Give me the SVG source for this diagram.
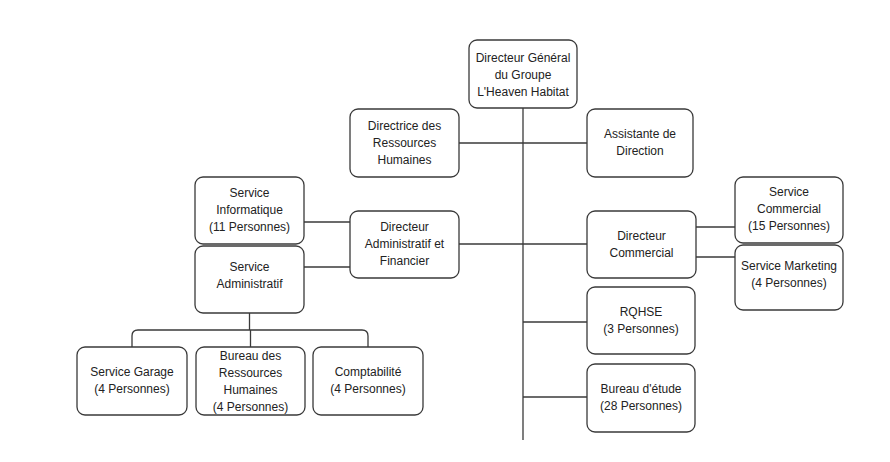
<svg xmlns="http://www.w3.org/2000/svg" width="890" height="462" viewBox="0 0 890 462">
<style>
.box{fill:#fff;stroke:#3a3a3a;stroke-width:1.3}
.lbl{font-family:"Liberation Sans",Arial,sans-serif;font-size:12px;fill:#222;text-anchor:middle}
.ln{fill:none;stroke:#3a3a3a;stroke-width:1.3}
</style>
<rect width="890" height="462" fill="#fff"/>
<g id="connectors">
<line class="ln" x1="523" y1="108" x2="523" y2="440"/>
<line class="ln" x1="459" y1="143" x2="587" y2="143"/>
<line class="ln" x1="459" y1="244" x2="587" y2="244"/>
<line class="ln" x1="523" y1="322" x2="587" y2="322"/>
<line class="ln" x1="523" y1="397" x2="587" y2="397"/>
<line class="ln" x1="304" y1="222" x2="350" y2="222"/>
<line class="ln" x1="304" y1="267" x2="350" y2="267"/>
<line class="ln" x1="696" y1="227" x2="735" y2="227"/>
<line class="ln" x1="696" y1="257" x2="735" y2="257"/>
<path class="ln" d="M249.5 313 V330 M132 347 V336 Q132 330 138 330 H362 Q368 330 368 336 V347 M250.5 330 V347"/>
</g>
<g id="dg"><rect class="box" x="469" y="40" width="108" height="68" rx="8"/><text class="lbl"><tspan x="523" y="62">Directeur Général</tspan><tspan x="523" y="79">du Groupe</tspan><tspan x="523" y="96">L'Heaven Habitat</tspan></text></g>
<g id="drh"><rect class="box" x="350" y="109" width="109" height="68" rx="8"/><text class="lbl"><tspan x="404.5" y="130">Directrice des</tspan><tspan x="404.5" y="147">Ressources</tspan><tspan x="404.5" y="164">Humaines</tspan></text></g>
<g id="assistante"><rect class="box" x="587" y="109" width="106" height="68" rx="8"/><text class="lbl"><tspan x="640" y="137.5">Assistante de</tspan><tspan x="640" y="154.5">Direction</tspan></text></g>
<g id="informatique"><rect class="box" x="195" y="177" width="109" height="67" rx="8"/><text class="lbl"><tspan x="249.5" y="197">Service</tspan><tspan x="249.5" y="214">Informatique</tspan><tspan x="249.5" y="231">(11 Personnes)</tspan></text></g>
<g id="administratif"><rect class="box" x="195" y="246" width="109" height="67" rx="8"/><text class="lbl"><tspan x="249.5" y="271">Service</tspan><tspan x="249.5" y="288">Administratif</tspan></text></g>
<g id="daf"><rect class="box" x="350" y="211" width="109" height="67" rx="8"/><text class="lbl"><tspan x="404.5" y="231">Directeur</tspan><tspan x="404.5" y="248">Administratif et</tspan><tspan x="404.5" y="265">Financier</tspan></text></g>
<g id="dc"><rect class="box" x="587" y="211" width="109" height="67" rx="8"/><text class="lbl"><tspan x="641.5" y="240">Directeur</tspan><tspan x="641.5" y="257">Commercial</tspan></text></g>
<g id="commercial"><rect class="box" x="735" y="177" width="108" height="66" rx="8"/><text class="lbl"><tspan x="789" y="196">Service</tspan><tspan x="789" y="213">Commercial</tspan><tspan x="789" y="230">(15 Personnes)</tspan></text></g>
<g id="marketing"><rect class="box" x="735" y="245" width="108" height="65" rx="8"/><text class="lbl"><tspan x="789" y="270">Service Marketing</tspan><tspan x="789" y="287">(4 Personnes)</tspan></text></g>
<g id="rqhse"><rect class="box" x="587" y="287" width="108" height="67" rx="8"/><text class="lbl"><tspan x="641" y="316">RQHSE</tspan><tspan x="641" y="333">(3 Personnes)</tspan></text></g>
<g id="etude"><rect class="box" x="587" y="364" width="108" height="68" rx="8"/><text class="lbl"><tspan x="641" y="393">Bureau d'étude</tspan><tspan x="641" y="410">(28 Personnes)</tspan></text></g>
<g id="garage"><rect class="box" x="77" y="347" width="110" height="68" rx="8"/><text class="lbl"><tspan x="132" y="376">Service Garage</tspan><tspan x="132" y="393">(4 Personnes)</tspan></text></g>
<g id="brh"><rect class="box" x="196" y="347" width="109" height="68" rx="8"/><text class="lbl"><tspan x="250.5" y="359.5">Bureau des</tspan><tspan x="250.5" y="376.5">Ressources</tspan><tspan x="250.5" y="393.5">Humaines</tspan><tspan x="250.5" y="410.5">(4 Personnes)</tspan></text></g>
<g id="comptabilite"><rect class="box" x="313" y="347" width="110" height="68" rx="8"/><text class="lbl"><tspan x="368" y="376">Comptabilité</tspan><tspan x="368" y="393">(4 Personnes)</tspan></text></g>
</svg>
